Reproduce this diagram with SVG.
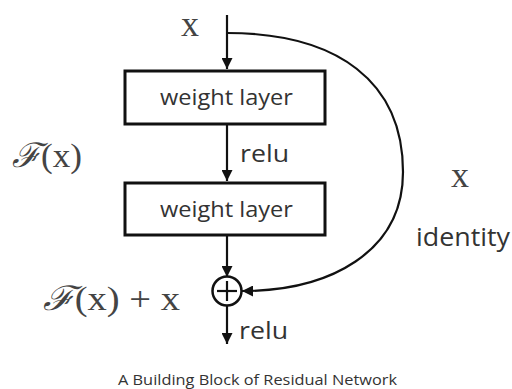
<svg xmlns="http://www.w3.org/2000/svg" width="512" height="389" viewBox="0 0 512 389">
<style>
.box{fill:#fff;stroke:#111;stroke-width:3}
.ln{fill:none;stroke:#111;stroke-width:2.2}
.lbl{font-family:"Open Sans","Liberation Sans",sans-serif;fill:#333;font-weight:500}
.math{font-family:"Liberation Serif","DejaVu Serif",serif;fill:#444}
</style>
<defs>
<marker id="ah" viewBox="0 0 10 10" refX="10" refY="5" markerWidth="5" markerHeight="5" orient="auto" markerUnits="strokeWidth">
<path d="M0,0 L10,5 L0,10 z" fill="#111"/>
</marker>
</defs>
<rect width="512" height="389" fill="#fff"/>
<g id="connectors">
<line class="ln" x1="227" y1="15" x2="227" y2="69" marker-end="url(#ah)"/>
<line class="ln" x1="227" y1="125" x2="227" y2="181" marker-end="url(#ah)"/>
<line class="ln" x1="227" y1="236" x2="227" y2="277" marker-end="url(#ah)"/>
<line class="ln" x1="227" y1="306" x2="227" y2="344" marker-end="url(#ah)"/>
<path class="ln" d="M227,33 C338,33 403,82 403,172 C403,252 330,291 242,291" marker-end="url(#ah)"/>
</g>
<g id="input-x"><text class="math" x="190" y="36" font-size="36" text-anchor="middle">x</text></g>
<g id="weight-layer-1">
<rect class="box" x="125" y="71" width="200" height="53"/>
<text class="lbl" x="160" y="105" font-size="22" textLength="133" lengthAdjust="spacingAndGlyphs">weight layer</text>
</g>
<g id="relu-1"><text class="lbl" x="240" y="162" font-size="23" textLength="49" lengthAdjust="spacingAndGlyphs">relu</text></g>
<g id="Fx"><text class="math" x="12" y="167" font-size="34" textLength="70" lengthAdjust="spacingAndGlyphs"><tspan font-style="italic" font-family="DejaVu Serif,serif">ℱ</tspan>(x)</text></g>
<g id="weight-layer-2">
<rect class="box" x="125" y="183" width="200" height="52"/>
<text class="lbl" x="160" y="217" font-size="22" textLength="133" lengthAdjust="spacingAndGlyphs">weight layer</text>
</g>
<g id="add">
<circle cx="227" cy="291" r="14.5" fill="#fff" stroke="#111" stroke-width="2.5"/>
<line class="ln" x1="217" y1="291" x2="237" y2="291"/>
<line class="ln" x1="227" y1="281" x2="227" y2="301"/>
</g>
<g id="Fx-plus-x"><text class="math" x="43" y="310" font-size="34" textLength="137" lengthAdjust="spacingAndGlyphs"><tspan font-style="italic" font-family="DejaVu Serif,serif">ℱ</tspan>(x) + x</text></g>
<g id="relu-2"><text class="lbl" x="239" y="339" font-size="23" textLength="49" lengthAdjust="spacingAndGlyphs">relu</text></g>
<g id="identity">
<text class="math" x="460" y="187" font-size="36" text-anchor="middle">x</text>
<text class="lbl" x="416" y="246" font-size="25" textLength="94" lengthAdjust="spacingAndGlyphs">identity</text>
</g>
<g id="caption"><text class="lbl" x="118" y="385" font-size="15" textLength="279" lengthAdjust="spacingAndGlyphs" fill="#666" font-weight="600">A Building Block of Residual Network</text></g>
</svg>
